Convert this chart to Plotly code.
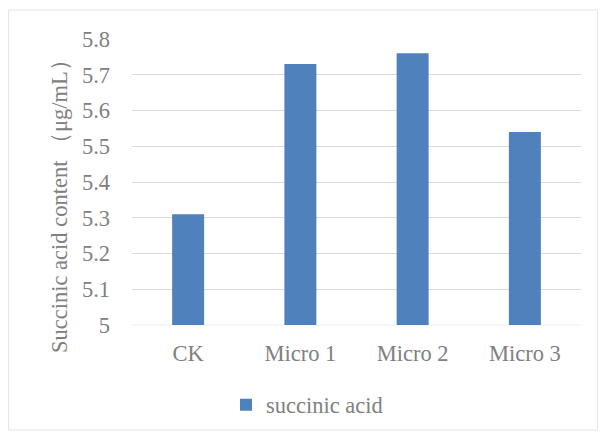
import plotly.graph_objects as go

categories = ["CK", "Micro 1", "Micro 2", "Micro 3"]
values = [5.31, 5.73, 5.76, 5.54]
series_name = "succinic acid"
y_ticks = [5, 5.1, 5.2, 5.3, 5.4, 5.5, 5.6, 5.7, 5.8]
y_tick_text = ["5", "5.1", "5.2", "5.3", "5.4", "5.5", "5.6", "5.7", "5.8"]

W, H = 605, 434
L, R, T, B = 132, 24, 39, 109
pw, ph = W - L - R, H - T - B

def px(x):
    return (x - L) / pw

def py(y):
    return (H - B - y) / ph

font_family = "Times New Roman, Liberation Serif, serif"
gray = "#808080"
FS = 22.5

fig = go.Figure()
fig.add_trace(go.Bar(
    x=categories, y=values, name=series_name,
    marker=dict(color="#4F81BD", line=dict(width=0)),
    width=0.285,
))

fig.update_layout(
    width=W, height=H,
    margin=dict(l=L, r=R, t=T, b=B, autoexpand=False),
    paper_bgcolor="white", plot_bgcolor="white",
    font=dict(family=font_family, size=FS, color=gray),
    showlegend=True,
    legend=dict(orientation="h", x=px(226), xanchor="left", y=py(405), yanchor="middle",
                font=dict(family=font_family, size=FS, color=gray), itemwidth=30),
    xaxis=dict(showline=False, ticks="", ticklabelstandoff=12,
               tickfont=dict(family=font_family, size=FS, color=gray)),
    yaxis=dict(range=[5, 5.8], tickvals=y_ticks, ticktext=y_tick_text,
               showgrid=True, gridcolor="#D9D9D9", gridwidth=1,
               zeroline=False, showline=False, ticks="", ticklabelstandoff=21,
               tickfont=dict(family=font_family, size=FS, color=gray)),
    shapes=[
        dict(type="rect", xref="paper", yref="paper",
             x0=px(8.5), x1=px(597.5), y0=py(10), y1=py(430),
             line=dict(color="#E6E6E6", width=1), fillcolor="rgba(0,0,0,0)", layer="below"),
        dict(type="line", xref="paper", yref="paper", x0=0, x1=1, y0=0, y1=0,
             line=dict(color="#EDEDED", width=1), layer="below"),
    ],
    annotations=[
        dict(text="Succinic acid content （μg/mL）", xref="paper", yref="paper",
             x=px(59), y=py(201), textangle=-90, showarrow=False,
             xanchor="center", yanchor="middle",
             font=dict(family=font_family, size=FS, color=gray)),
    ],
)

fig.write_html("out.html", config={"displayModeBar": False},
               post_script="document.body.style.margin='0';document.body.style.overflow='hidden';")
